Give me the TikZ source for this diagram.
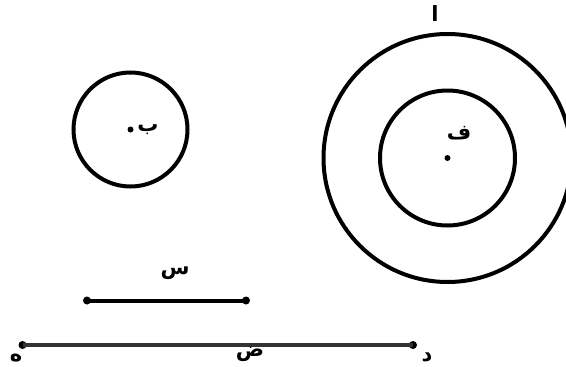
\documentclass[tikz,border=0pt]{standalone}
\usepackage{fontspec}
\newfontfamily\arabicfont[Script=Arabic]{DejaVu Sans}
\TeXXeTstate=1
\begin{document}
\begin{tikzpicture}[x=1pt,y=-1pt,
  circ/.style={draw=black,line width=4pt},
  seg/.style={draw=black,line width=4pt},
  longseg/.style={draw=black!80,line width=3.4pt},
  pt/.style={circle,fill=black,inner sep=0pt,minimum size=8pt},
  lbl/.style={font=\arabicfont\bfseries\fontsize{21}{23}\selectfont,inner sep=0pt}]
\useasboundingbox (0,0) rectangle (566,367);
% small circle
\coordinate (B) at (130.5,129.5);
\draw[circ] (B) circle[radius=57];
\node[pt,minimum size=6pt] (Bd) at (B) {};
\node[lbl] (Bl) at (148,130) {\beginR ب\endR};
% concentric circles
\coordinate (F) at (447.5,158);
\draw[circ] (F) circle[radius=124];
\draw[circ] (F) circle[radius=67.5];
\node[pt,minimum size=6pt] (Fd) at (F) {};
\node[lbl] (Fl) at (459,133) {\beginR ف\endR};
\node[lbl] (Al) at (435,14) {\beginR ا\endR};
% segment S
\node[pt] (S1) at (87,300.5) {};
\node[pt] (S2) at (246,300.5) {};
\draw[seg] (S1.center) -- (S2.center);
\node[lbl] (Sl) at (175,273) {\beginR س\endR};
% long segment
\node[pt] (H) at (22.5,345) {};
\node[pt] (D) at (413,345) {};
\draw[longseg] (H.center) -- (D.center);
\node[lbl] (Hl) at (16,358) {\beginR ه\endR};
\node[lbl] (Dl) at (427,357) {\beginR د\endR};
\node[lbl] (Zl) at (250,354) {\beginR ض\endR};
\end{tikzpicture}
\end{document}
